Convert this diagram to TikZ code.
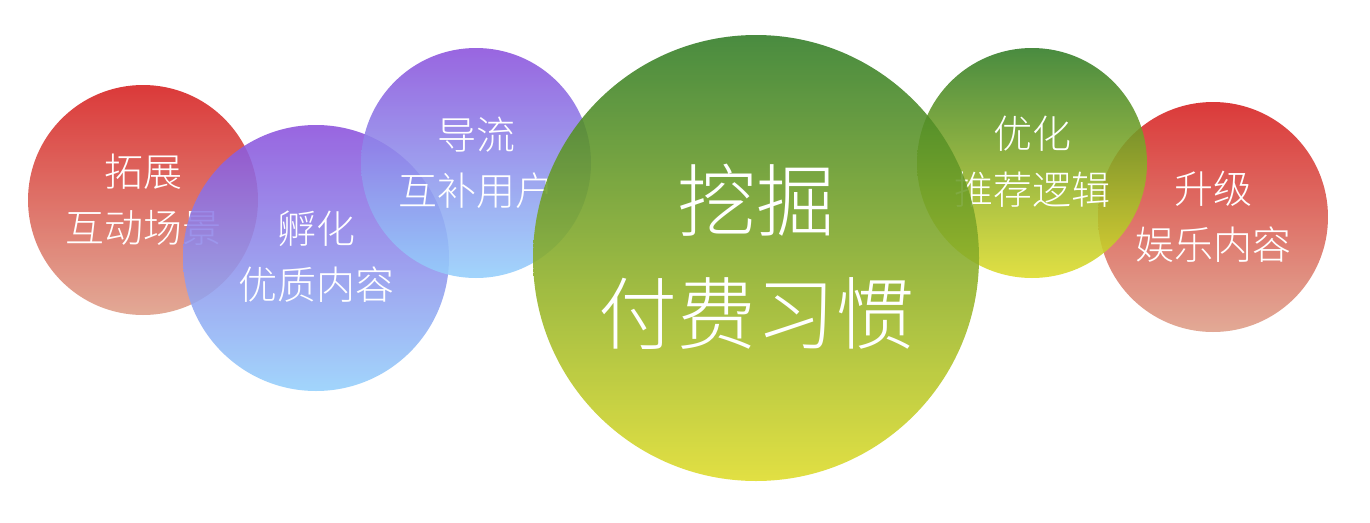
\documentclass[tikz,border=0pt]{standalone}
\usepackage{fontspec}
\newfontfamily\cjk{Noto Sans CJK SC}[UprightFont={* Light}]
\begin{document}
\begin{tikzpicture}[x=1pt,y=-1pt,
  bub/.style={fill opacity=0.88, draw=none},
  redb/.style={bub, top color=redT, bottom color=redB},
  purb/.style={bub, top color=purT, bottom color=purB},
  grnb/.style={bub, top color=grnT, bottom color=grnB},
  lbl/.style={text=white, font=\cjk\fontsize{39}{56}\selectfont, align=center, inner sep=0pt},
  biglbl/.style={text=white, font=\cjk\fontsize{79}{113}\selectfont, align=center, inner sep=0pt}]
\definecolor{redT}{HTML}{D71F1F}
\definecolor{redB}{HTML}{DE9E88}
\definecolor{purT}{HTML}{8B51DC}
\definecolor{purB}{HTML}{95D0FC}
\definecolor{grnT}{HTML}{317C26}
\definecolor{grnB}{HTML}{DEDC2A}
\useasboundingbox (0,0) rectangle (1370,522);
\fill[white] (0,0) rectangle (1370,522);
% circle 1
\shade[redb] (143,200) circle (115);
\node[lbl] (t1) at (143,200) {拓展\\互动场景};
% circle 2
\shade[purb] (316,258) circle (133);
\node[lbl] (t2) at (316,257) {孵化\\优质内容};
% circle 3
\shade[purb] (476,163) circle (115);
\node[lbl] (t3) at (476,163) {导流\\互补用户};
% circle 6
\shade[redb] (1213,217) circle (115);
\node[lbl] (t6) at (1213,217) {升级\\娱乐内容};
% circle 5
\shade[grnb] (1032,163) circle (115);
\node[lbl] (t5) at (1032,162) {优化\\推荐逻辑};
% circle 4 (big)
\shade[grnb] (756,258) circle (223);
\node[biglbl] (t4) at (756,257) {挖掘\\付费习惯};
\end{tikzpicture}
\end{document}
